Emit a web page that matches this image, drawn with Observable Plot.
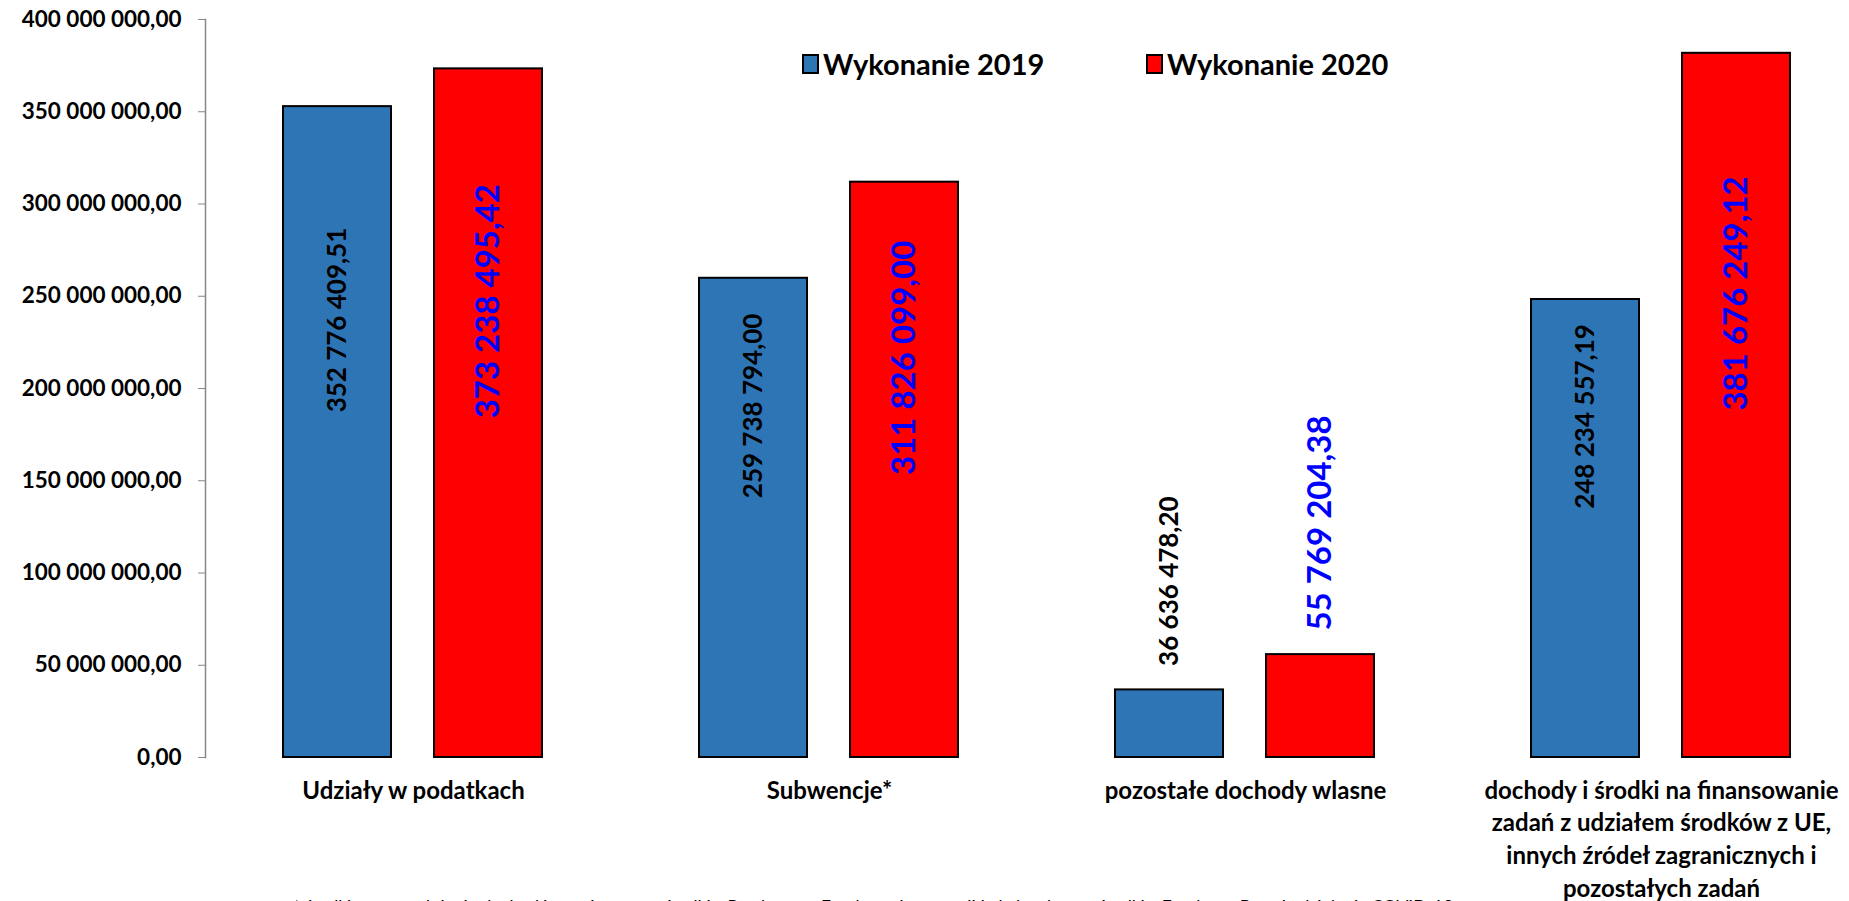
<!DOCTYPE html>
<html>
<head>
<meta charset="utf-8">
<script src="https://cdn.jsdelivr.net/npm/d3@7"></script>
<script src="https://cdn.jsdelivr.net/npm/@observablehq/plot@0.6"></script>
<style>
  html, body { margin: 0; padding: 0; background: #fff; overflow: hidden; }
  #wrap { position: relative; width: 1849px; height: 901px; font-family: Lato, "Open Sans", sans-serif; }
  #chart svg { display: block; overflow: visible; }
  #chart svg text { font-weight: 700; }
  .legend { position: absolute; top: 46px; display: flex; align-items: center; font-size: 29px; font-weight: 700; color: #000; line-height: 36px; }
  .legend .sw { width: 17px; height: 20px; box-sizing: border-box; border: 2px solid #000; margin-right: 4px; }
  #foot { position: absolute; left: 293px; top: 898px; font-size: 17.5px; line-height: 1; white-space: nowrap; color: #000; }
</style>
</head>
<body>
<div id="wrap">
  <div id="chart"></div>
  <div id="legend"></div>
  <div id="foot"></div>
</div>
<script>
// ---- data ----
const categories = [
  "Udziały w podatkach",
  "Subwencje*",
  "pozostałe dochody wlasne",
  "dochody i środki na finansowanie\nzadań z udziałem środków z UE,\ninnych źródeł zagranicznych i\npozostałych zadań"
];
const series = ["Wykonanie 2019", "Wykonanie 2020"];
const values2019 = [352776409.51, 259738794.00, 36636478.20, 248234557.19];
const values2020 = [373238495.42, 311826099.00, 55769204.38, 381676249.12];
const yTicks = [0, 50000000, 100000000, 150000000, 200000000, 250000000, 300000000, 350000000, 400000000];
const seriesColors = ["#2E75B6", "#FF0000"];
const labelColors = ["#000000", "#0000FF"];
const footnote = "* środki na uzupełnienie dochodów gmin, w tym środki z Rządowego Funduszu Inwestycji Lokalnych oraz środki z Funduszu Przeciwdziałania COVID-19";

// ---- table ----
const table = [];
categories.forEach((c, i) => {
  table.push({category: c, series: series[0], value: values2019[i]});
  table.push({category: c, series: series[1], value: values2020[i]});
});

const pl = d3.formatLocale({decimal: ",", thousands: "\u00a0", grouping: [3], currency: ["", ""]});
const fmt = pl.format(",.2f");
const small = d => d.value < 100000000;

const chart = Plot.plot({
  width: 1849,
  height: 901,
  marginTop: 19,
  marginBottom: 144,
  marginLeft: 205,
  marginRight: 0,
  style: {fontFamily: "Lato, 'Open Sans', sans-serif", color: "#000", background: "transparent"},
  fx: {domain: categories, range: [205, 1869], padding: 0, label: null},
  x: {domain: series, paddingInner: 0.282, paddingOuter: 0.513, axis: null},
  y: {domain: [0, 400000000], label: null},
  color: {domain: series, range: seriesColors},
  marks: [
    Plot.frame({anchor: "left", stroke: "#868686", strokeWidth: 1.5, facetAnchor: "left"}),
    Plot.axisY({ticks: yTicks, tickFormat: fmt, tickSize: 7, tickPadding: 17, fontSize: 22.5, stroke: "#868686", fill: "#000", label: null}),
    Plot.axisFx({anchor: "bottom", tickSize: 0, tickPadding: 18, fontSize: 24, lineHeight: 1.36, fill: "#000", label: null}),
    Plot.barY(table, {fx: "category", x: "series", y: "value", fill: "series", stroke: "#000", strokeWidth: 2}),
    Plot.text(table, {
      filter: d => !small(d),
      fx: "category", x: "series", y: d => d.value / 2,
      text: d => fmt(d.value), rotate: -90, dy: -112,
      fill: d => labelColors[series.indexOf(d.series)],
      fontSize: d => d.series === series[1] ? 33 : 26,
      textAnchor: "middle", lineAnchor: "middle"
    }),
    Plot.text(table, {
      filter: small,
      fx: "category", x: "series", y: "value",
      text: d => fmt(d.value), rotate: -90, dy: -24,
      fill: d => labelColors[series.indexOf(d.series)],
      fontSize: d => d.series === series[1] ? 33 : 26,
      textAnchor: "start", lineAnchor: "middle"
    })
  ]
});
document.getElementById("chart").appendChild(chart);

// ---- legend ----
const legend = document.getElementById("legend");
const legendLeft = [802, 1146];
series.forEach((s, i) => {
  const item = document.createElement("div");
  item.className = "legend";
  item.style.left = legendLeft[i] + "px";
  const sw = document.createElement("div");
  sw.className = "sw";
  sw.style.background = seriesColors[i];
  const t = document.createElement("span");
  t.textContent = s;
  item.appendChild(sw);
  item.appendChild(t);
  legend.appendChild(item);
});
document.getElementById("foot").textContent = footnote;
</script>
</body>
</html>
